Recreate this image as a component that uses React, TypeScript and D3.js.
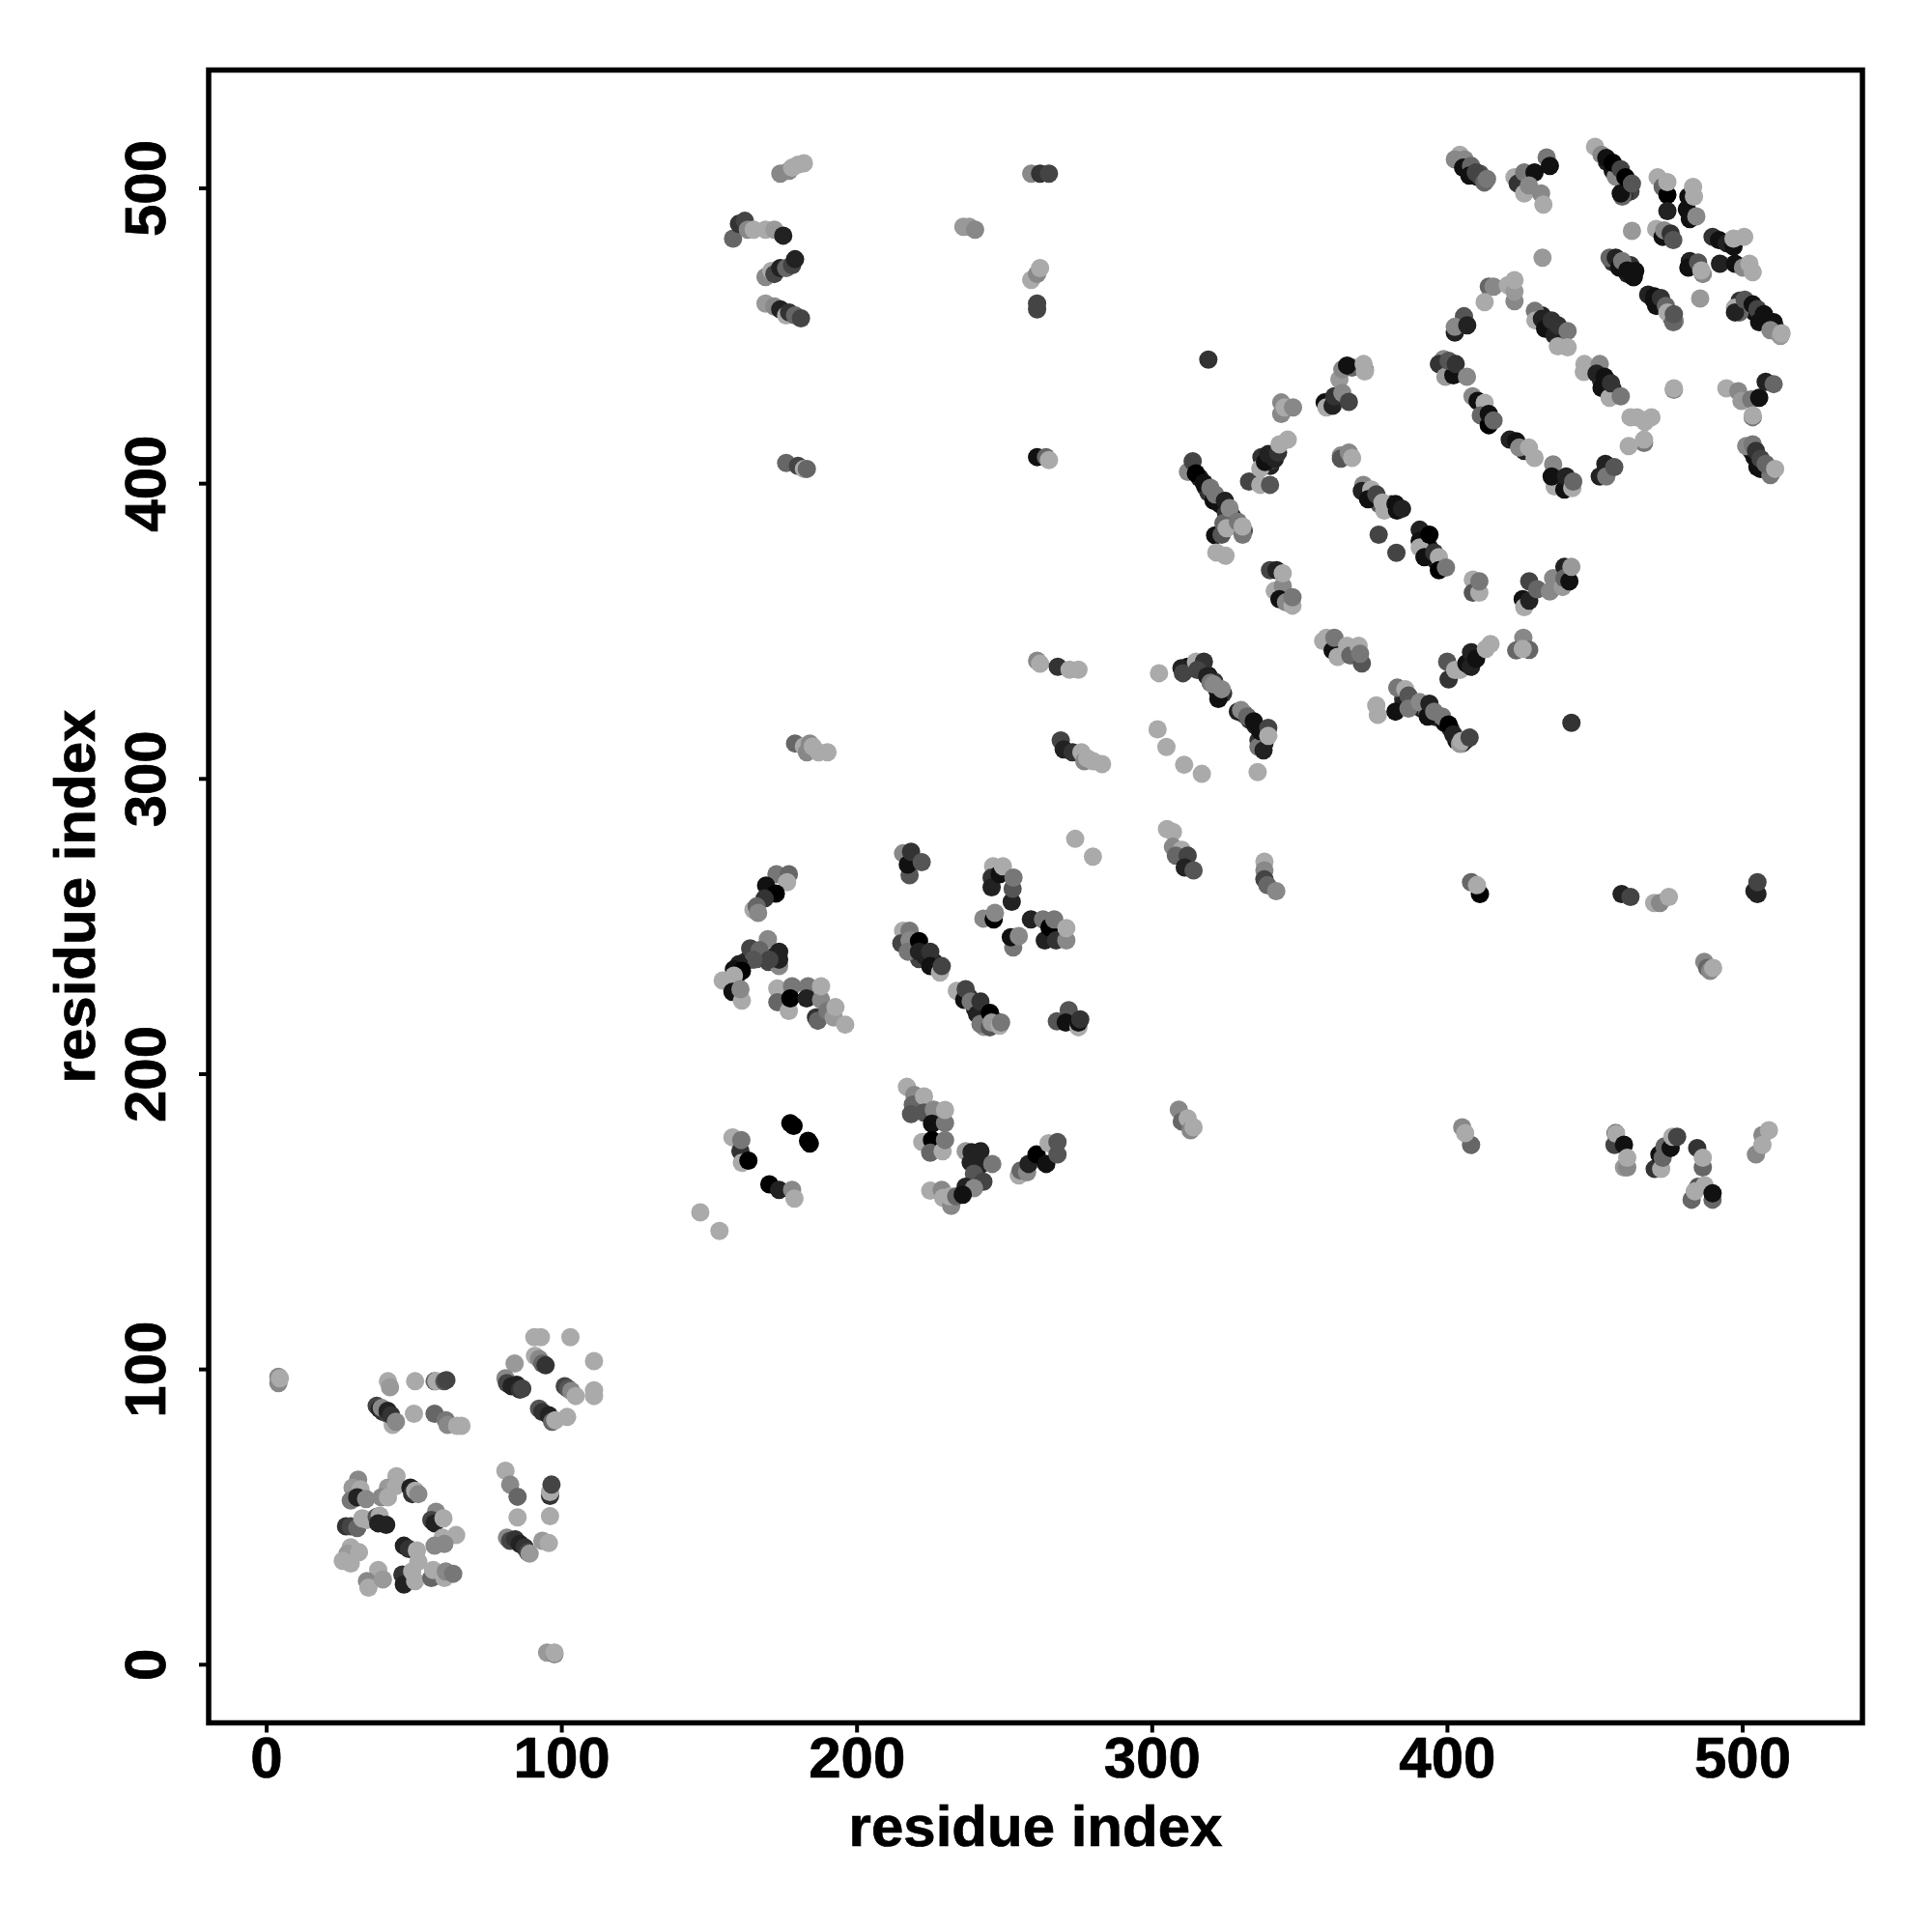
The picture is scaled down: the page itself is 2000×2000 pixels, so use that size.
import React from "react";
import * as d3 from "d3";

// each contact: [residue x, residue y, shade level 0 (black) .. 10 (light grey)]
type C = [number, number, number];

const denseBands: C[] = [[316,402,2],[318,399,1],[319,397,3],[322,395,2],[323,393,1],[325,390,3],[327,389,2],[328,386,1],[331,384,4],[373,397,3],[375,395,2],[377,393,5],[380,392,1],[381,393,3],[392,383,1],[393,380,2],[394,378,1],[396,374,2],[398,372,3],[385,327,3],[388,326,1],[391,324,2],[393,323,5],[396,321,2],[399,319,1],[401,317,3],[403,313,1],[405,312,3],[406,313,2],[385,325,2],[312,338,1],[316,337,2],[319,335,1],[321,333,3],[322,330,2],[324,329,3],[331,322,1],[333,320,3],[335,318,2],[337,315,5],[338,312,2],[336,313,3],[406,508,3],[409,506,2],[411,505,5],[413,503,3],[410,504,1],[454,509,2],[456,506,1],[458,505,3],[459,503,2],[461,501,1],[462,499,4],[460,498,3],[457,504,8],[456,475,3],[458,474,1],[461,471,2],[463,470,0],[462,474,3],[468,464,2],[470,462,1],[473,461,2],[475,458,3],[476,456,5],[477,455,8],[499,462,3],[501,460,1],[504,458,1],[506,456,2],[508,455,1],[511,453,3],[512,451,8],[499,458,6],[338,408,1],[340,406,2],[337,409,3],[341,408,4],[432,457,2],[434,454,1],[436,453,3],[438,452,4],[431,456,8],[450,438,2],[452,435,3],[454,435,1],[456,432,2],[453,433,4],[503,411,2],[504,409,1],[506,407,2],[508,406,3],[510,404,6],[506,405,1],[162,238,3],[164,240,2],[166,239,5],[159,233,2],[168,240,4],[170,238,4],[172,240,3],[219,243,3],[221,239,4],[223,240,2],[226,238,2],[218,246,6],[238,226,3],[240,222,2],[243,219,2],[247,218,4],[243,216,9]];
const singles: C[] = [[4,97.5,8],[4,95.4,8],[4.5,97,10],[95,4.1,9],[97.5,3.5,8],[97.5,4.1,10],[319,442,3],[442,319,3]];
const helixA: C[] = [[41.1,96,10],[41.8,94,9],[50.3,96,10],[56.9,96,6],[57.5,96,10],[60.2,96,5],[60.9,96.4,4],[37.3,87.7,4],[38.3,86.6,2],[39.4,85.6,3],[39,87,8],[41,85,4],[41,86,2],[42.7,81.2,10],[42.2,84.5,3],[43.8,82.3,8],[49.9,85,10],[56.9,85,6],[60.7,82.8,7],[61.3,81.2,8],[64.5,80.9,10],[66,80.9,10]];
const helixB: C[] = [[90.7,110.9,10],[92.9,110.9,10],[102.9,110.9,10],[110.9,102.8,10],[110.9,92.9,10],[110.9,91,10],[84,102,9],[90.9,104.6,10],[92.3,103.6,8],[93.4,102,6],[94.5,101.4,3],[80.9,97,8],[81.4,95.4,4],[83,94.3,2],[84.7,94.8,2],[85.8,93.2,3],[86.6,93.5,4],[101,94.3,4],[102.1,93.5,5],[103.2,92.7,8],[104.7,91,10],[92.3,86.7,5],[93.4,85.6,3],[95.6,84.5,2],[96.7,82.3,6],[97.8,82.8,10],[101.8,83.9,10]];
const helixC: C[] = [[80.9,65.7,10],[82.5,61,8],[85,56.9,6],[85,49.9,10],[96,57.2,3],[96,58.5,10],[96.5,61,4],[96,50.3,10],[81.4,43,8],[82.5,42,4],[84.2,42.5,3],[85.8,40.9,2],[87.4,39.8,3],[88.5,38.1,4],[89.1,37.6,9],[93.4,42,9],[95.6,41.2,10]];
const ring: C[] = [[31,62.7,8],[29.1,60,9],[31.8,59.4,10],[28.5,55.6,7],[30.7,56.7,2],[33.7,56.1,8],[44,63.8,10],[41.1,60,9],[38.9,56.7,8],[41.1,56.7,10],[43.8,60.5,10],[48.7,60,2],[49.3,57.8,3],[50.3,58.9,10],[51.4,57.8,8],[57.4,51.8,8],[55.8,49,4],[56.9,47.9,2],[59.9,49.6,10],[26.9,46.9,3],[28.5,46.9,4],[30.7,46.3,6],[32.4,49.6,10],[34,49,10],[37.3,50.1,5],[38.3,50.5,10],[37.8,47.9,2],[40.5,47.4,2],[64.2,43.9,10],[59.6,43,10],[56.9,40.3,8],[60.2,40.9,8],[46.5,40.3,2],[48.2,39.2,3],[50.9,38.7,10],[28.5,39.8,10],[27.4,37.6,9],[31.3,38.1,10],[25.8,35.2,10],[28.5,34.3,10],[37.8,32.1,10],[34,28.3,8],[34.5,26.1,10],[39.4,28.9,9],[46,30.5,3],[46.5,27.2,2],[49.3,31.6,10],[50.3,28.3,10],[51.4,34.9,10],[55.8,29.4,6],[56.4,32.1,10],[60.2,29.4,10],[60.7,31.6,8],[63.2,30.8,7]];
const sheetA: C[] = [[172.7,267.7,7],[176.9,267.7,6],[176.3,265,10],[169.2,263.9,1],[172.5,261.2,0],[168.7,259.5,3],[164.9,255.7,10],[166,256.8,6],[166.5,254.6,8]];
const sheetB: C[] = [[169.8,245.7,8],[163.8,242.6,4],[167,242,6],[173.6,241.5,2],[173.6,236.6,8],[173.6,238.8,2],[170.3,238.8,4],[164.9,238.8,5],[160,237.2,2],[158.3,235.5,1],[161,235,0],[154.5,231.7,10],[158.3,233.4,10],[157.2,230,10],[157.8,227.9,1],[161,224.9,10],[160.5,228.8,8]];
const sheetC: C[] = [[173,229,10],[178,229.8,7],[173,224.4,6],[176.9,221.4,10],[177.4,225.7,0],[183.4,229.8,7],[182.9,225.7,2],[187.8,225.2,8],[187.8,229.8,10],[186.1,219.2,3],[186.7,218.1,6],[190,221.4,7],[192.1,219.2,9],[192.7,222.7,10],[196,216.8,10]];
const sheetD: C[] = [[215.6,274.8,8],[217.8,267.4,5],[217.2,271,1],[218.3,275.3,3],[221.9,271.8,5]];
const sheetE: C[] = [[215.6,248.6,10],[215,244.3,4],[217.8,248.6,7],[217.8,245.3,8],[217.2,241.5,7],[221,245.1,0],[221,241.5,2],[224.8,241.5,3],[224.8,236.6,1],[228.1,234.4,10],[228.7,236.6,4]];
const sheetF: C[] = [[233.8,228.2,10],[236.3,225.2,1],[236.8,228.8,4],[238.5,224.6,7],[240.7,220.3,2],[241.8,224.6,3],[241.8,217,7],[245,215.9,5],[245,220.8,0],[245.6,217.5,9],[248.3,216.4,10],[248.8,217.5,7]];
const sheetG: C[] = [[246.1,270.4,10],[245.6,266.6,3],[245.6,263.3,2],[252.4,258.4,2],[252.7,262.8,5],[248.3,267.7,1],[249.4,270.4,10],[253,266.6,7],[242.8,252.7,8],[246.3,252.4,0],[246.7,254.6,8],[252.9,242.9,7],[252.1,246.4,1],[254.8,246.8,8],[258.9,252.4,2],[263,252.4,7],[263.6,245.3,2],[265.2,249.7,0],[266.8,252.4,7],[267.4,245.3,3],[270.9,245.3,8],[270.9,249.5,10],[273.9,279.7,10],[279.9,273.7,10]];
const sheetH: C[] = [[267.7,217.9,5],[271.7,221.7,5],[270.7,217.5,1],[275,215.9,10],[275,217.5,1],[275.6,218.6,3]];
const lowerA: C[] = [[177.4,183.4,0],[178.5,182.5,0],[183.4,177.4,0],[184,176.5,0],[157.8,178.6,10],[160.5,173.9,3],[160.8,177.7,7],[161,170,10],[163.2,170.7,0],[170.3,162.7,0],[173.6,160.8,2],[178,160.8,8],[178.8,157.9,10],[146.9,153.2,10],[153.4,146.9,10]];
const lowerB: C[] = [[216.9,195.7,10],[219.4,193,8],[218.9,189.7,6],[218.3,186.5,5],[222.7,192.5,10],[222.7,187,5],[226,188,8],[225.4,183.2,1],[229.8,183.5,7],[229.8,187.9,10],[222.1,177,10],[225.4,177.7,0],[224.8,173.4,6],[229,173.9,10],[229.8,177.7,7]];
const lowerC: C[] = [[224.8,160.6,10],[228.7,160.8,8],[229.2,158.1,10],[231.9,155.4,8],[231.4,158.6,10],[233.6,158.6,6],[236.8,173.9,9],[238.8,173.6,2],[241.8,173.9,2],[238.5,170.1,2],[242.3,169.6,2],[245.8,169.6,7],[239.6,166.3,5],[242.8,163.6,4],[236.8,161.9,2],[239.6,161.4,8],[235.8,159.2,1]];
const lowerD: C[] = [[254.8,165.7,10],[255.4,167.4,6],[257.6,166.8,8],[258.1,169.6,2],[260.8,172.8,0],[264.1,169.6,1],[264.9,176.6,10],[267.9,172.8,5],[267.9,177,5]];
const midA: C[] = [[302.3,335.8,10],[309.9,337.5,2],[310.4,335.8,4],[314.8,339.7,10],[317.5,339.7,3],[315.3,336.9,4],[318.6,334.8,2],[322.4,327.1,1],[322.4,329.3,1],[319.7,332.6,7],[320.8,332,8],[323.5,330.4,8]];
const midB: C[] = [[329,322.8,2],[330.1,323.3,8],[332.2,321.1,6],[334.4,319.5,1],[336,310.8,7],[337.7,309.7,2],[336.6,316.2,1],[339.3,317.3,4],[339.3,314.6,10],[335.7,302.3,10],[301.8,316.8,10],[304.8,310.8,10],[310.8,304.8,10],[316.8,301.7,10]];
const midC: C[] = [[312.1,404,8],[313.7,407.6,4],[314.8,403.5,0],[317.5,400.2,1],[319.7,398.6,7],[320.8,394.2,1],[321.3,396.4,7],[321.3,382.5,1],[323.5,382.7,5],[324.1,386.6,6],[324.6,394.2,2],[325.2,384.9,10],[326.2,391.7,8],[329,387.1,7],[330.6,382.7,7],[330.6,385.5,10],[321.7,376.7,10],[324.8,375.6,10]];
const midD: C[] = [[343.7,427.5,8],[343.7,423.6,8],[344.8,425.8,10],[347.7,425.8,8],[358.4,427.5,1],[359,425.8,10],[361.1,426.4,2],[361.7,429.6,3],[363.4,435.3,9],[364.4,438.7,8],[364.4,430.7,8],[366.6,427.7,4],[367.7,439.3,6],[366,440,1],[372,438.5,3],[372,438,10],[371.6,440.5,10]];
const midE: C[] = [[332.8,400.7,4],[336.6,405.1,10],[336.6,399.6,10],[338.2,407.3,1],[339.3,410,2],[339.9,399.6,5],[341.5,408.4,2],[342.6,410.5,3],[343.1,413.3,10],[345.9,414.9,10],[363.9,409.5,8],[363.9,408.5,5],[366.6,410.5,8],[367.7,408.7,10]];
const midF: C[] = [[371.5,399.6,8],[371,397.5,2],[374.2,398,10],[373.1,394.7,1],[375.9,396.4,4],[378,393.6,10],[378.6,390.9,10],[382.4,393.1,1],[382.9,390.9,1],[384.6,391.5,2],[376.7,382.7,4],[382.7,376.6,4],[390.6,384.4,2],[390.6,380.6,1],[390.6,378.4,10],[392.2,375.1,1],[393.9,382.7,0],[395.5,376.7,3],[397.1,375.1,10],[397.1,370.7,0],[399.5,371.6,7]];
const midG: C[] = [[408.6,367.5,10],[408.6,363.1,5],[410.8,363.1,10],[410.8,366.9,7],[427.7,366.9,4],[425.5,360.9,1],[426,358.2,10],[427.7,360.4,2],[430.4,364.2,6],[434.7,363.5,8],[435.8,368,8],[439,365,9],[439.6,371.8,2],[439.6,368,6],[441.3,366.9,1],[442,371.8,9]];
const midH: C[] = [[339.9,370.7,4],[342.1,370.7,2],[341.5,363.7,10],[344.2,365.3,8],[344.2,369.6,10],[343.1,360.9,1],[345.3,359.8,8],[347.5,358.7,10],[347.5,361.5,7],[357.9,346.7,10],[359,347.8,10],[361.1,343.5,1],[361.7,347.8,7],[362.8,341.3,10],[366,345.1,10],[367.1,341.8,6],[371,339.1,5],[369.9,345.1,10],[370.4,342.4,7],[425.7,347.8,8],[423.3,343.5,6],[427.7,343.7,6],[425.5,344,10]];
const midI: C[] = [[399.9,339.7,5],[400.4,333.7,3],[402.6,336.9,10],[404.2,336.9,10],[406.4,339.1,1],[408,338,2],[408,342.9,2],[409.7,340.7,1],[413,344,10],[414.6,345.7,10]];
const midJ: C[] = [[375.9,324.9,10],[376.4,321.7,10],[382.4,322.8,1],[383,330.9,7],[385.7,330.4,10],[386.8,328.2,5],[386.8,323.8,7],[390.6,326,8],[393.3,321.1,1],[393.9,325.5,2],[395.5,322.8,7],[398.2,321.1,7],[400.4,318.4,0],[402,315.1,2],[404.2,311.9,9],[404.8,312.9,10],[407.5,314,4]];
const upperA: C[] = [[404.2,511.4,10],[402.5,509.8,8],[405.8,509.8,8],[405.3,507,1],[408,507.6,6],[407.4,504.3,1],[409.6,505.4,4],[411.3,503.8,4],[412.5,502,6],[413.4,503.2,7],[422.7,503.8,10],[423.8,501.6,3],[426,505.4,7],[429.5,505.4,1],[426,498.3,10],[427.6,501,8],[431.7,498.3,8],[432.5,494.5,10],[433.6,510.5,7],[434.7,507.6,1]];
const upperB: C[] = [[450,514.1,10],[452.2,511.4,8],[453.8,510.3,1],[456,508.7,0],[459.2,497.2,6],[458.7,498.3,1],[458.7,506.5,4],[460.3,503.8,0],[462.5,501.6,5],[471.2,503.8,10],[472.9,500.5,6],[474.5,497.8,0],[474.5,492.3,2],[474.5,502.1,10],[481.1,492.9,1],[481.6,497.2,1],[483.2,500.5,10],[483.5,497.2,10],[482.1,489.6,1],[484.3,490.5,8],[462.5,485.6,9]];
const upperC: C[] = [[470.7,486.3,10],[472.9,483.6,1],[473.4,485.8,8],[475.6,484.7,3],[476.5,482.5,5],[489.8,483.6,3],[492,482.5,1],[494.7,481.4,2],[496.9,480.3,1],[496.9,483,10],[500.5,483.6,10],[482.1,475.4,2],[481.6,473.2,1],[484.9,474.9,5],[486.5,471,8],[486,472.2,10],[492.3,474.5,2],[497.4,474.5,1],[500.1,473.2,8],[502.3,474.5,10],[503.4,471.6,10]];
const upperD: C[] = [[454.9,476.5,6],[457,476.5,2],[458.2,473.2,1],[459.2,475.4,7],[460.9,472.2,1],[463.1,470,1],[463.6,472,1],[485.6,462.7,9],[470.1,463.4,1],[470.7,460.2,1],[472.3,462.9,3],[474,460.2,6],[474.5,458,10],[476.5,454.7,6],[476.7,457.4,5]];
const upperE: C[] = [[497.4,459.6,10],[497.4,458,2],[500.7,462.3,5],[503.4,460.7,1],[505,459.1,4],[505.6,454.7,1],[507.2,457.4,1],[510.5,454.7,1],[509.4,452,8],[512.8,450,9],[513.2,450.9,10]];
const upperF: C[] = [[405.6,456.7,5],[402.5,451.2,2],[402.5,453.1,8],[406.7,453.6,2],[414,466.7,6],[415.6,466.7,8],[412.6,461.5,10],[420.5,467.2,10],[422.7,461.8,8],[422.7,465.1,9],[422.7,468.9,10],[432.2,476.5,9]];
const upperG: C[] = [[429.6,458.5,7],[429.8,455.3,10],[432,455.8,2],[433.1,452.5,1],[435.3,455.3,3],[436.3,450.3,2],[437.4,453.6,3],[437.4,446.5,10],[440.7,451.7,7],[440.7,446.2,10],[446.4,440.5,10],[446.2,437.8,10],[451.6,440.5,8],[450.5,437.3,2],[452.2,432.4,1],[453.2,436.2,1],[454.9,429.1,10],[455.4,434,3],[458.7,429.6,7],[476.7,431.8,8],[476.7,432.3,10]];
const upperH: C[] = [[494.5,432.3,10],[498.5,431.3,8],[499.6,428,9],[502.9,428.5,7],[503.4,422.5,7],[503.4,423.1,10],[505.6,429.1,1],[507.8,434.5,2],[510.5,433.7,6],[462,422.5,10],[464.2,422.5,10],[466.9,420.9,10],[469.1,422.5,10],[466.6,413.8,7],[466.6,414.9,10],[461.4,412.7,10]];
const loop: C[] = [[398.7,442.2,8],[397.1,440.5,3],[399.3,436.2,9],[402,436.7,1],[400.4,441.6,5],[402.8,440.5,3],[406.6,436.2,8],[408.5,429.6,8],[410.2,428,1],[412.6,427.4,10],[411.3,423.1,6],[414,419.8,0],[414,423.6,1],[415.6,421.4,6],[421.1,414.9,2],[423.3,414.4,1],[426,411.1,2],[424.3,412.2,8],[427.6,412.2,10],[429.5,408.7,10],[435.8,406.5,8],[436.3,399.1,10],[435.3,402.4,1],[439.6,398,1],[440.2,402.4,2],[442.3,398.5,10],[442.6,400.7,6],[451.6,402.4,2],[453.5,406.7,2],[453.8,402.4,7],[456.5,405.6,5]];
const cornerA: C[] = [[501.2,412.7,8],[503.4,413.3,7],[504.5,411.1,3],[505,405.6,1],[506.1,408.4,4],[509.4,402.9,7],[507.8,406.7,6],[511,405,10]];
const topLeft: C[] = [[174,505,8],[177,506,8],[178,507,10],[180,508,10],[182,508.5,10],[158,483,6],[160,488,3],[162,489,4],[163,486,8],[165,486,10],[169,486,10],[172,486,9],[175,484,2],[169,470,8],[171,472,10],[172,471,4],[174,473,2],[176,473,6],[178,474,4],[179,476,2],[169,461,9],[172,460,8],[174,459,2],[176,457,10],[177,458,3],[179,457,6],[181,456,4],[176,407,6],[180,406,4],[182,405,10],[183,405,6]];
const topMid: C[] = [[259,505,8],[262,505,3],[265,505,4],[236,487,9],[238,487,9],[240,486,8],[261,459,4],[261,461,4],[259,469,10],[261,471,8],[262,473,10],[261,409,1],[264,409,6],[265,408,10]];
const centerA: C[] = [[261,340,8],[262,339,10],[268,338,3],[272,337,10],[275,337,10],[269,313,4],[270,310,2],[273,309,3],[276,309,10],[277,306,8],[278,307,10],[280,306,10],[283,305,10],[179,312,6],[182,311,10],[184,312,8],[183,309,8],[185,311,10],[187,309,10],[190,309,10]];
const centerB: C[] = [[305,283,10],[307,282,10],[307,277,8],[310,276,10],[308,274,6],[312,274,4],[311,270,2],[314,269,5],[338,272,10],[338,269,8],[338,266,4],[339,264,6],[342,262,8],[408,265,6],[411,261,0],[410,264,10],[459,261,2],[462,260,4],[470,258,10],[472,258,8],[475,260,10],[504,262,2],[505,261,2],[505,265,4],[487,238,8],[488,236,6],[489,235,8],[490,236,10]];
const bottomRow: C[] = [[309,188,8],[310,184,6],[312,185,10],[313,181,8],[314,182,10],[405,182,8],[408,176,6],[406,180,10],[456.6,176,4],[457,180,2],[457.1,179.9,10],[459.8,176.1,1],[459.8,168.4,9],[460.9,168.4,8],[460.9,171.7,10],[470.2,167.9,3],[471.8,172.8,1],[472.4,167.9,10],[472.9,171.7,6],[473.5,175.5,6],[475.6,175,1],[476.2,178.8,10],[477.8,178.8,4],[484.6,175,3],[486.5,168.4,6],[486.5,171.7,10],[484.9,161.9,5],[487.1,162.4,10],[482.7,157.5,6],[483.8,160.3,10],[489.8,157.5,6],[489.8,159.7,1],[504.5,172.8,8],[506.7,179.4,8],[506.7,176,10],[508.9,181,10]];

const contacts: C[] = [
  ...denseBands, ...singles, ...helixA, ...helixB, ...helixC, ...ring, ...sheetA, ...sheetB, ...sheetC, ...sheetD, ...sheetE,
  ...sheetF, ...sheetG, ...sheetH, ...lowerA, ...lowerB, ...lowerC, ...lowerD, ...midA, ...midB, ...midC,
  ...midD, ...midE, ...midF, ...midG, ...midH, ...midI, ...midJ, ...upperA, ...upperB, ...upperC, ...upperD,
  ...upperE, ...upperF, ...upperG, ...upperH, ...loop, ...cornerA, ...topLeft, ...topMid, ...centerA, ...centerB, ...bottomRow,
];

const tickValues = [0, 100, 200, 300, 400, 500];
const axisLabel = "residue index";

const box = { left: 216, right: 1928, top: 72.5, bottom: 1783.5 };
const fontFamily = "'Liberation Sans', Arial, sans-serif";
const textStyle = { fontFamily, fontWeight: "bold", fontSize: 60, stroke: "#000", strokeWidth: 0.7 } as const;

export default function App() {
  const x = d3.scaleLinear().domain([0, 500]).range([276, 1804]);
  const y = d3.scaleLinear().domain([0, 500]).range([1723.3, 195]);
  const shade = d3.scaleLinear().domain([0, 10]).range([0, 170]);
  const color = (s: number) => {
    const g = Math.round(shade(s));
    return `rgb(${g},${g},${g})`;
  };
  return (
    <svg width={2000} height={2000} style={{ position: "absolute", left: 0, top: 0, background: "#fff" }}>
      {contacts.map((c, i) => (
        <circle key={i} cx={x(c[0])} cy={y(c[1])} r={9.5} fill={color(c[2])} />
      ))}
      <rect x={box.left} y={box.top} width={box.right - box.left} height={box.bottom - box.top} fill="none" stroke="#000" strokeWidth={5.5} />
      {tickValues.map((t) => (
        <g key={t}>
          <line x1={x(t)} x2={x(t)} y1={box.bottom} y2={box.bottom + 10} stroke="#000" strokeWidth={4} />
          <text x={x(t)} y={1840} textAnchor="middle" style={textStyle}>{t}</text>
          <line x1={box.left} x2={box.left - 10} y1={y(t)} y2={y(t)} stroke="#000" strokeWidth={4} />
          <text transform={`translate(171,${y(t)}) rotate(-90)`} textAnchor="middle" style={textStyle}>{t}</text>
        </g>
      ))}
      <text x={1072} y={1911} textAnchor="middle" style={textStyle}>{axisLabel}</text>
      <text transform="translate(98,928) rotate(-90)" textAnchor="middle" style={textStyle}>{axisLabel}</text>
    </svg>
  );
}
